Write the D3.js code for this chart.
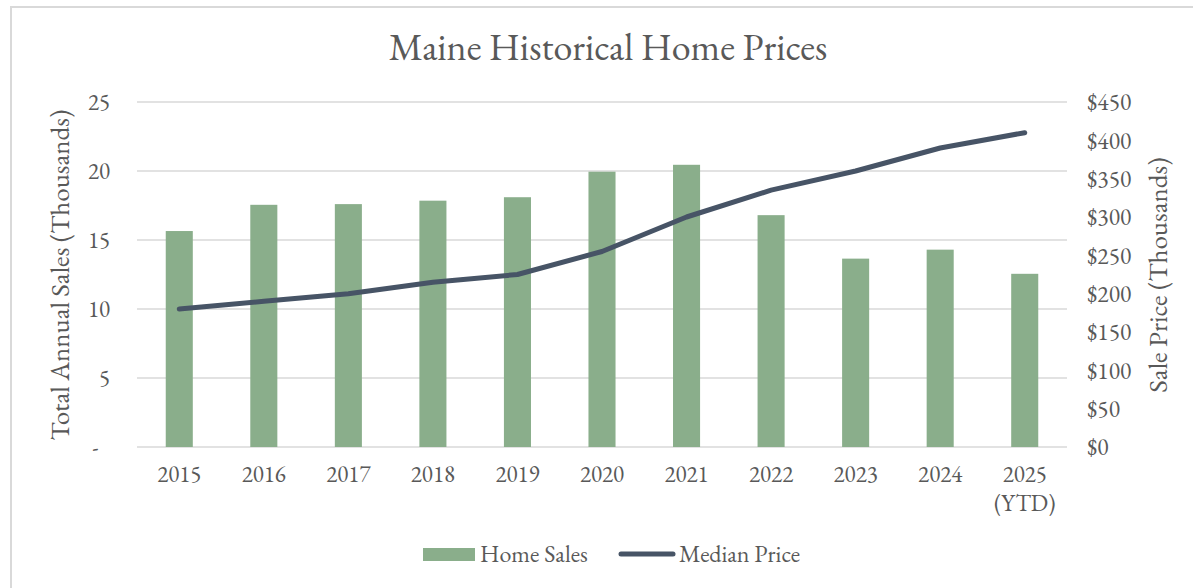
<!DOCTYPE html>
<html>
<head>
<meta charset="utf-8">
<script src="https://cdn.jsdelivr.net/npm/d3@7"></script>
<style>
  html, body { margin: 0; padding: 0; background: #fff; }
  svg { display: block; }
  text { font-family: 'EB Garamond', Garamond, 'Liberation Serif', 'DejaVu Serif', serif; fill: #595959; white-space: pre; }
</style>
</head>
<body>
<svg id="chart" width="1193" height="588"></svg>
<script>
const categories = ["2015","2016","2017","2018","2019","2020","2021","2022","2023","2024","2025\n(YTD)"];
const homeSales = [15.65, 17.55, 17.6, 17.85, 18.1, 19.95, 20.45, 16.8, 13.65, 14.3, 12.55];
const medianPrice = [180, 190, 200, 215, 225, 255, 300, 335, 360, 390, 410];
const leftTicks = [0, 5, 10, 15, 20, 25];
const rightTicks = [0, 50, 100, 150, 200, 250, 300, 350, 400, 450];
const title = "Maine Historical Home Prices";
const leftTitle = "Total Annual Sales (Thousands)";
const rightTitle = "Sale Price (Thousands)";
const seriesNames = ["Home Sales", "Median Price"];

const barColor = "#8aae8b";
const lineColor = "#475466";
const gridColor = "#d9d9d9";

const svg = d3.select("#chart");
svg.append("rect").attr("width", 1193).attr("height", 588).attr("fill", "#fff");
svg.append("rect").attr("x", 11).attr("y", 7).attr("width", 1300).attr("height", 700)
  .attr("fill", "none").attr("stroke", gridColor).attr("stroke-width", 2);

const pLeft = 137, pRight = 1067, pTop = 102, pBottom = 447;
const x = d3.scaleBand().domain(categories).range([pLeft, pRight]).paddingInner(0.68).paddingOuter(0.34);
const yL = d3.scaleLinear().domain([0, 25]).range([pBottom, pTop]);
const yR = d3.scaleLinear().domain([0, 450]).range([pBottom, pTop]);

// gridlines
svg.append("g").selectAll("line").data(leftTicks).join("line")
  .attr("x1", pLeft).attr("x2", pRight)
  .attr("y1", d => yL(d)).attr("y2", d => yL(d))
  .attr("stroke", gridColor).attr("stroke-width", 1.5);

// bars
svg.append("g").selectAll("rect").data(homeSales).join("rect")
  .attr("x", (d, i) => x(categories[i]))
  .attr("width", x.bandwidth())
  .attr("y", d => yL(d))
  .attr("height", d => yL(0) - yL(d))
  .attr("fill", barColor);

// line
const line = d3.line().x((d, i) => x(categories[i]) + x.bandwidth() / 2).y(d => yR(d));
svg.append("path").datum(medianPrice).attr("d", line)
  .attr("fill", "none").attr("stroke", lineColor).attr("stroke-width", 5)
  .attr("stroke-linecap", "round").attr("stroke-linejoin", "round");

// left axis
const axL = d3.axisLeft(yL).tickValues(leftTicks).tickSize(0).tickPadding(0)
  .tickFormat(d => d === 0 ? "-\u2002" : d3.format("d")(d));
const gL = svg.append("g").attr("transform", `translate(${pLeft - 27},0)`).call(axL);
gL.attr("font-family", null).attr("font-size", null);
gL.select(".domain").remove();
gL.selectAll("text").attr("font-size", 23).attr("fill", "#595959").attr("dy", "0.33em");

// right axis
const axR = d3.axisRight(yR).tickValues(rightTicks).tickSize(0).tickPadding(0)
  .tickFormat(d => "$" + d);
const gR = svg.append("g").attr("transform", `translate(${pRight + 20},0)`).call(axR);
gR.attr("font-family", null).attr("font-size", null);
gR.select(".domain").remove();
gR.selectAll("text").attr("font-size", 23.5).attr("fill", "#595959").attr("dy", "0.33em");

// bottom axis
const axB = d3.axisBottom(x).tickSize(0).tickPadding(0).tickFormat("");
const gB = svg.append("g").attr("transform", `translate(0,${pBottom})`).call(axB);
gB.attr("font-family", null).attr("font-size", null);
gB.select(".domain").remove();
gB.selectAll(".tick").each(function(d) {
  const t = d3.select(this).append("text").attr("text-anchor", "middle")
    .attr("font-size", 23).attr("fill", "#595959");
  d.split("\n").forEach((s, i) => {
    t.append("tspan").attr("x", 0).attr("y", 35 + i * 29).text(s);
  });
});

// title
svg.append("text").attr("x", 608).attr("y", 60).attr("text-anchor", "middle")
  .attr("font-size", 38).text(title);

// axis titles
svg.append("text").attr("transform", "translate(69,275) rotate(-90)")
  .attr("text-anchor", "middle").attr("font-size", 27).text(leftTitle);
svg.append("text").attr("transform", "translate(1167,275) rotate(-90)")
  .attr("text-anchor", "middle").attr("font-size", 27).text(rightTitle);

// legend
const lg = svg.append("g");
lg.append("rect").attr("x", 423).attr("y", 548).attr("width", 52).attr("height", 13).attr("fill", barColor);
lg.append("text").attr("x", 480).attr("y", 562).attr("font-size", 24).text(seriesNames[0]);
lg.append("line").attr("x1", 621).attr("x2", 673).attr("y1", 554).attr("y2", 554)
  .attr("stroke", lineColor).attr("stroke-width", 5).attr("stroke-linecap", "round");
lg.append("text").attr("x", 679).attr("y", 562).attr("font-size", 24).text(seriesNames[1]);
</script>
</body>
</html>
